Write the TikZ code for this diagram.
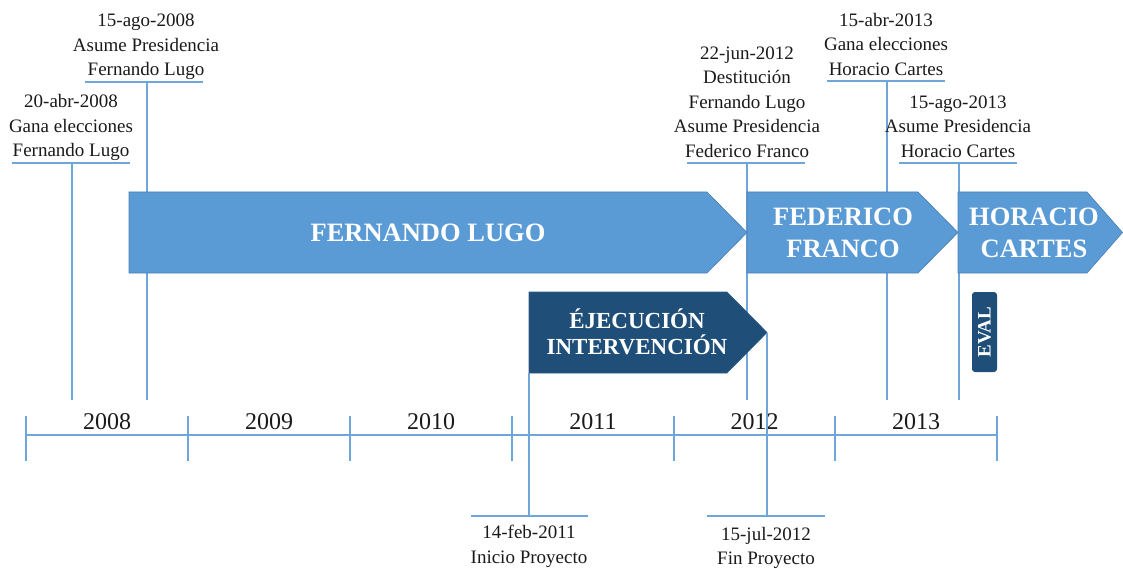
\documentclass[tikz,border=0pt]{standalone}
\usepackage{fontspec}
\setmainfont{Liberation Serif}
\definecolor{lblue}{HTML}{5B9BD5}
\definecolor{lborder}{HTML}{4A7EB5}
\definecolor{dblue}{HTML}{1F4E79}
\definecolor{dborder}{HTML}{2E5C8A}
\definecolor{lline}{HTML}{6FA6DA}
\definecolor{txt}{HTML}{1A1A1A}
\begin{document}
\begin{tikzpicture}[x=1pt,y=-1pt,
  evt/.style={align=center, font=\fontsize{19}{24.5}\selectfont, text=txt, inner sep=0pt},
  evtop/.style={evt, anchor=south, text depth=4.5pt},
  evbot/.style={evt, anchor=north},
  ln/.style={draw=lline, line width=1.3pt},
  tl/.style={draw=lline, line width=1.2pt},
  yr/.style={font=\fontsize{24}{26}\selectfont, text=txt, anchor=base, inner sep=0pt},
  bar/.style={fill=lblue, draw=lborder, line width=0.6pt},
  dbar/.style={fill=dblue, draw=dborder, line width=0.6pt},
  bartxt/.style={text=white, font=\bfseries\fontsize{26.5}{32}\selectfont, align=center, inner sep=0pt},
  etatxt/.style={text=white, font=\bfseries\fontsize{23}{26}\selectfont, align=center, inner sep=0pt},
]
\useasboundingbox (0,0) rectangle (1123,569);

% ---------- timeline ----------
\coordinate (t0) at (26,435);
\coordinate (t6) at (997,435);
\draw[tl] (t0) -- (t6);
\foreach \x in {26,188,350,512,674,835,997}{
  \draw[tl] (\x,416) -- (\x,461);
}
\node[yr] (y2008) at (107,429) {2008};
\node[yr] (y2009) at (269,429) {2009};
\node[yr] (y2010) at (431,429) {2010};
\node[yr] (y2011) at (593,429) {2011};
\node[yr] (y2012) at (754.5,429) {2012};
\node[yr] (y2013) at (916,429) {2013};

% ---------- top events ----------
\node[evtop] (e1) at (71,161.5) {20-abr-2008\\Gana elecciones\\Fernando Lugo};
\coordinate (e1a) at (12,163); \coordinate (e1b) at (130,163);
\coordinate (e1u) at (72,163); \coordinate (e1d) at (72,400);
\draw[ln] (e1a) -- (e1b);
\draw[ln] (e1u) -- (e1d);

\node[evtop] (e2) at (146,80.5) {15-ago-2008\\Asume Presidencia\\Fernando Lugo};
\coordinate (e2a) at (85,82); \coordinate (e2b) at (203,82);
\coordinate (e2u) at (147,82); \coordinate (e2d) at (147,400);
\draw[ln] (e2a) -- (e2b);
\draw[ln] (e2u) -- (e2d);

\node[evtop] (e3) at (747,162) {22-jun-2012\\Destitución\\Fernando Lugo\\Asume Presidencia\\Federico Franco};
\coordinate (e3a) at (687,163); \coordinate (e3b) at (805,163);
\coordinate (e3u) at (747,163); \coordinate (e3d) at (747,400);
\draw[ln] (e3a) -- (e3b);
\draw[ln] (e3u) -- (e3d);

\node[evtop] (e4) at (886,80) {15-abr-2013\\Gana elecciones\\Horacio Cartes};
\coordinate (e4a) at (827,81); \coordinate (e4b) at (945,81);
\coordinate (e4u) at (887,81); \coordinate (e4d) at (887,400);
\draw[ln] (e4a) -- (e4b);
\draw[ln] (e4u) -- (e4d);

\node[evtop] (e5) at (958,162) {15-ago-2013\\Asume Presidencia\\Horacio Cartes};
\coordinate (e5a) at (899,163); \coordinate (e5b) at (1017,163);
\coordinate (e5u) at (959,163); \coordinate (e5d) at (959,400);
\draw[ln] (e5a) -- (e5b);
\draw[ln] (e5u) -- (e5d);

% ---------- bars ----------
\draw[bar] (129,192) -- (707,192) -- (747,232.5) -- (707,273) -- (129,273) -- cycle;
\node[bartxt] (lugo) at (428,233) {FERNANDO LUGO};

\draw[bar] (747,192) -- (918,192) -- (958,232.5) -- (918,273) -- (747,273) -- cycle;
\node[bartxt] (franco) at (843,233) {FEDERICO\\FRANCO};

\draw[bar] (958,192) -- (1087,192) -- (1122.5,232.5) -- (1087,273) -- (958,273) -- cycle;
\node[bartxt] (cartes) at (1034,233) {HORACIO\\CARTES};

% ---------- project bar ----------
\coordinate (etaSW) at (529,373);
\coordinate (etaTip) at (767,332.5);
\draw[dbar] (529,292) -- (727,292) -- (etaTip) -- (727,373) -- (etaSW) -- cycle;
\node[etatxt] (eta) at (637,332) {ÉJECUCIÓN\\INTERVENCIÓN};

\node[fill=dblue, rounded corners=3pt, minimum width=80pt, minimum height=25pt,
      inner sep=0pt, rotate=90, text=white, font=\bfseries\fontsize{19}{22}\selectfont]
      (eval) at (984.5,332) {EVAL};

% ---------- bottom events ----------
\coordinate (e6u) at (529,516);
\coordinate (e6a) at (471,516); \coordinate (e6b) at (588,516);
\draw[ln] (etaSW) -- (e6u);
\draw[ln] (e6a) -- (e6b);
\node[evbot] (e6) at (529,525) {14-feb-2011\\Inicio Proyecto};

\coordinate (e7u) at (767,516);
\coordinate (e7a) at (707,516); \coordinate (e7b) at (825,516);
\draw[ln] (etaTip) -- (e7u);
\draw[ln] (e7a) -- (e7b);
\node[evbot] (e7) at (766,527) {15-jul-2012\\Fin Proyecto};
\end{tikzpicture}
\end{document}
